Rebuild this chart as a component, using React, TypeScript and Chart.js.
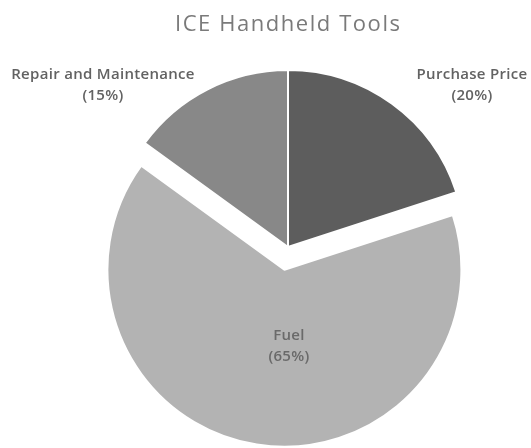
import React, { useEffect, useRef } from "react";
import { Chart, registerables } from "chart.js";

Chart.register(...registerables);

const categories = ["Purchase Price", "Fuel", "Repair and Maintenance"];
const shares = [20, 65, 15];
const sliceColors = ["#5d5d5d", "#b3b3b3", "#888888"];
const sliceExplode = [0, 23, 0];
const titleText = "ICE Handheld Tools";

// label anchor points (centre x, first-line baseline y)
const labelAnchors = [
  { x: 472, y: 79 },
  { x: 289, y: 340 },
  { x: 103, y: 79 },
];

const explodePlugin = {
  id: "explodeSlices",
  afterDatasetsUpdate(chart: any) {
    const meta = chart.getDatasetMeta(0);
    meta.data.forEach((arc: any, i: number) => {
      const d = sliceExplode[i] || 0;
      if (!d) return;
      const mid = (arc.startAngle + arc.endAngle) / 2;
      arc.x += Math.cos(mid) * d;
      arc.y += Math.sin(mid) * d;
    });
  },
};

const labelPlugin = {
  id: "pieLabels",
  afterDraw(chart: any) {
    const ctx = chart.ctx;
    ctx.save();
    // title
    ctx.font = '400 22px "Open Sans"';
    ctx.fillStyle = "#7a7a7a";
    ctx.textAlign = "left";
    ctx.textBaseline = "alphabetic";
    const plain = ctx.measureText(titleText).width;
    const target = 225;
    const sp = (target - plain) / (titleText.length - 1);
    (ctx as any).letterSpacing = sp + "px";
    ctx.fillText(titleText, 287.5 - target / 2, 31);
    (ctx as any).letterSpacing = "0.3px";

    ctx.font = '600 15px "Open Sans"';
    ctx.textAlign = "center";
    categories.forEach((c, i) => {
      const a = labelAnchors[i];
      ctx.fillStyle = i === 1 ? "#6a6a6a" : "#626262";
      ctx.fillText(c, a.x, a.y);
      ctx.fillText("(" + shares[i] + "%)", a.x, a.y + 21);
    });
    ctx.restore();
  },
};

export default function App() {
  const ref = useRef<HTMLCanvasElement | null>(null);
  useEffect(() => {
    if (!ref.current) return;
    const chart = new Chart(ref.current, {
      type: "pie",
      data: {
        labels: categories,
        datasets: [
          {
            data: shares,
            backgroundColor: sliceColors,
            borderColor: "#ffffff",
            borderWidth: 2,
            hoverOffset: 0,
            clip: false as any,
          },
        ],
      },
      options: {
        animation: false,
        responsive: true,
        maintainAspectRatio: false,
        layout: { padding: { top: 69, bottom: 23, left: 50, right: 5 } },
        plugins: {
          legend: { display: false },
          tooltip: { enabled: false },
          title: { display: false },
        },
        events: [],
      },
      plugins: [explodePlugin, labelPlugin],
    });
    return () => chart.destroy();
  }, []);
  return (
    <div style={{ position: "fixed", left: 0, top: 0, width: 531, height: 448, background: "#ffffff" }}>
      <canvas ref={ref} />
    </div>
  );
}
